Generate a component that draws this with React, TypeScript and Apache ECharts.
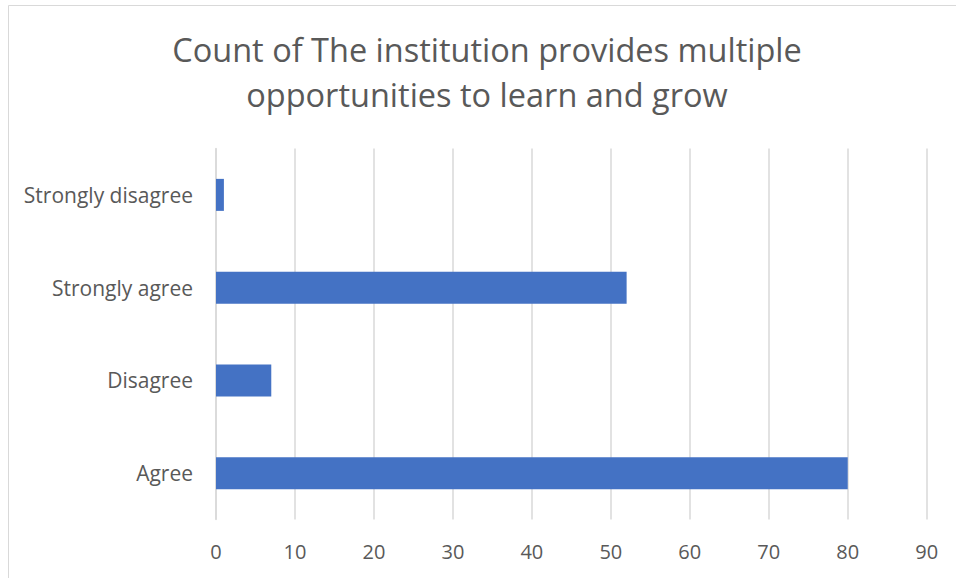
import React, { useEffect, useRef } from "react";
import * as echarts from "echarts";

const categories = ["Agree", "Disagree", "Strongly agree", "Strongly disagree"];
const counts = [80, 7, 52, 1];
const titleLines = ["Count of The institution provides multiple", "opportunities to learn and grow"];

export default function App() {
  const ref = useRef<HTMLDivElement>(null);
  useEffect(() => {
    if (!ref.current) return;
    const chart = echarts.init(ref.current, null, { renderer: "svg" });
    const font = "Open Sans";
    chart.setOption({
      animation: false,
      backgroundColor: "#ffffff",
      graphic: [
        {
          type: "rect",
          shape: { x: 8.5, y: 5.5, width: 1000, height: 1000 },
          style: { fill: "none", stroke: "#d9d9d9", lineWidth: 1 },
          silent: true,
        },
        {
          type: "text",
          x: 487,
          y: 72,
          style: {
            text: titleLines.join("\n"),
            fontFamily: font,
            fontSize: 32.5,
            lineHeight: 45,
            fill: "#595959",
            align: "center",
            verticalAlign: "middle",
          },
        },
      ],
      grid: { left: 216, right: 29.3, top: 148.5, bottom: 58.5, containLabel: false },
      xAxis: {
        type: "value",
        min: 0,
        max: 90,
        interval: 10,
        axisLine: { show: false },
        axisTick: { show: false },
        splitLine: { show: true, lineStyle: { color: "#d9d9d9", width: 1.5 } },
        axisLabel: { color: "#595959", fontFamily: font, fontSize: 20, margin: 22 },
      },
      yAxis: {
        type: "category",
        data: categories,
        axisLine: { show: true, lineStyle: { color: "#d9d9d9", width: 1.5 } },
        axisTick: { show: false },
        axisLabel: { color: "#595959", fontFamily: font, fontSize: 21, margin: 23 },
      },
      series: [
        {
          type: "bar",
          data: counts,
          barWidth: 32,
          itemStyle: { color: "#4472C4" },
        },
      ],
    });
    return () => chart.dispose();
  }, []);
  return (
    <div
      ref={ref}
      style={{ position: "fixed", left: 0, top: 0, width: 956, height: 578 }}
    />
  );
}
